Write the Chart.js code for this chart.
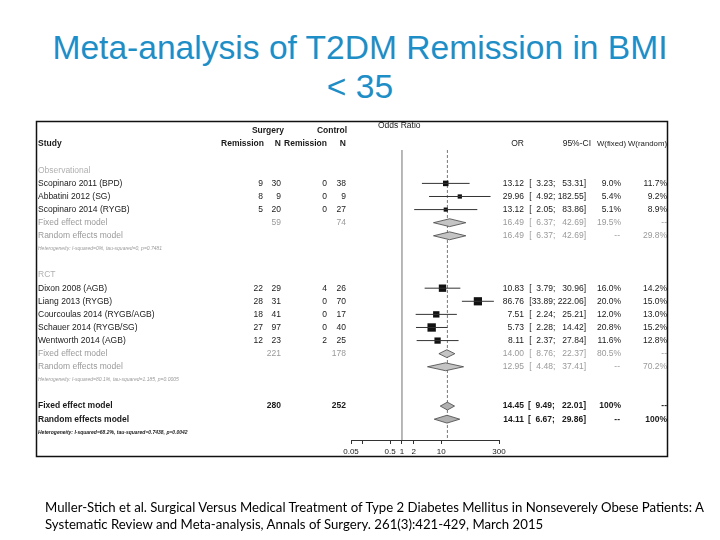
<!DOCTYPE html>
<html>
<head>
<meta charset="utf-8">
<script src="https://cdn.jsdelivr.net/npm/chart.js@4.4.0/dist/chart.umd.min.js"></script>
<style>
  body { margin: 0; width: 720px; height: 540px; background: #fff; position: relative; overflow: hidden; }
  #title { position: absolute; left: 0; top: 28px; width: 720px; text-align: center;
    font-family: "Liberation Sans", Arial, sans-serif; font-size: 33.6px; line-height: 39px; color: #1e8ec6; }
  #wrap { position: absolute; left: 0; top: 0; width: 720px; height: 540px; }
  #cite { position: absolute; left: 45px; top: 499px; font-family: Lato, "Noto Sans", sans-serif;
    font-size: 13.2px; line-height: 17px; color: #000; white-space: nowrap; }
</style>
</head>
<body>
<div id="title">Meta-analysis of T2DM Remission in BMI<br>&lt; 35</div>
<div id="wrap"><canvas id="forest" width="720" height="540"></canvas></div>
<div id="cite">Muller-Stich et al. Surgical Versus Medical Treatment of Type 2 Diabetes Mellitus in Nonseverely Obese Patients: A<br>Systematic Review and Meta-analysis, Annals of Surgery. 261(3):421-429, March 2015</div>
<script>
// studies
const studies = ['Scopinaro 2011 (BPD)', 'Abbatini 2012 (SG)', 'Scopinaro 2014 (RYGB)',
  'Dixon 2008 (AGB)', 'Liang 2013 (RYGB)', 'Courcoulas 2014 (RYGB/AGB)', 'Schauer 2014 (RYGB/SG)', 'Wentworth 2014 (AGB)'];
const studyGroup = [0, 0, 0, 1, 1, 1, 1, 1];
const surgRem = [9, 8, 5, 22, 28, 18, 27, 12];
const surgN = [30, 9, 20, 29, 31, 41, 97, 23];
const ctrlRem = [0, 0, 0, 4, 0, 0, 0, 2];
const ctrlN = [38, 9, 27, 26, 70, 17, 40, 25];
const orVal = [13.12, 29.96, 13.12, 10.83, 86.76, 7.51, 5.73, 8.11];
const ciLo = [3.23, 4.92, 2.05, 3.79, 33.89, 2.24, 2.28, 2.37];
const ciHi = [53.31, 182.55, 83.86, 30.96, 222.06, 25.21, 14.42, 27.84];
const wFixed = [9.0, 5.4, 5.1, 16.0, 20.0, 12.0, 20.8, 11.6];
const wRandom = [11.7, 9.2, 8.9, 14.2, 15.0, 13.0, 15.2, 12.8];

// subgroups
const groups = ['Observational', 'RCT'];
const grpSurgN = [59, 221];
const grpCtrlN = [74, 178];
const grpFixed = [[16.49, 6.37, 42.69], [14.00, 8.76, 22.37]];
const grpRandom = [[16.49, 6.37, 42.69], [12.95, 4.48, 37.41]];
const grpWFixed = [19.5, 80.5];
const grpWRandom = [29.8, 70.2];
const grpHet = ['Heterogeneity: I-squared=0%, tau-squared=0, p=0.7481',
  'Heterogeneity: I-squared=80.1%, tau-squared=1.185, p=0.0005'];

// overall
const totSurgN = 280;
const totCtrlN = 252;
const totFixed = [14.45, 9.49, 22.01];
const totRandom = [14.11, 6.67, 29.86];
const totHet = 'Heterogeneity: I-squared=68.2%, tau-squared=0.7438, p=0.0042';

// axis
const xTicks = [0.05, 0.1, 0.5, 1, 2, 10, 300];
const xTickLabels = ['0.05', '', '0.5', '1', '2', '10', '300'];

// row layout
const studyRow = [];
const grpRow = [];
let r = 0;
groups.forEach((g, gi) => {
  grpRow.push(r);
  let k = 1;
  studies.forEach((s, i) => { if (studyGroup[i] === gi) { studyRow[i] = r + k; k++; } });
  r += k + 4;
});
const totRow = r;

const FAM = '"Liberation Sans", Arial, sans-serif';
const BLACK = '#1a1a1a';
const GREY = '#9a9a9a';

const fmt = v => v.toFixed(2);
const ciText = (lo, hi) => '[' + fmt(lo).padStart(5, '\u2007') + '; ' + fmt(hi).padStart(6, '\u2007') + ']';
const pct = v => v.toFixed(1) + '%';

const forestPlugin = {
  id: 'forest',
  beforeDatasetsDraw(chart) {
    const c = chart.ctx, xs = chart.scales.x, ys = chart.scales.y;
    const bottom = chart.chartArea.bottom;
    c.save();
    c.strokeStyle = '#9a9a9a';
    c.lineWidth = 1.4;
    c.beginPath();
    c.moveTo(xs.getPixelForValue(1), ys.getPixelForValue(-1.55));
    c.lineTo(xs.getPixelForValue(1), bottom);
    c.stroke();
    c.strokeStyle = '#555';
    c.lineWidth = 0.8;
    c.setLineDash([3, 2]);
    c.beginPath();
    c.moveTo(xs.getPixelForValue(totFixed[0]), ys.getPixelForValue(-1.55));
    c.lineTo(xs.getPixelForValue(totFixed[0]), bottom);
    c.stroke();
    c.restore();
  },
  afterDatasetsDraw(chart) {
    const c = chart.ctx, xs = chart.scales.x, ys = chart.scales.y;
    const diamond = (est, row, fill) => {
      const h = 0.3;
      c.beginPath();
      c.moveTo(xs.getPixelForValue(est[1]), ys.getPixelForValue(row));
      c.lineTo(xs.getPixelForValue(est[0]), ys.getPixelForValue(row - h));
      c.lineTo(xs.getPixelForValue(est[2]), ys.getPixelForValue(row));
      c.lineTo(xs.getPixelForValue(est[0]), ys.getPixelForValue(row + h));
      c.closePath();
      c.fillStyle = fill;
      c.fill();
      c.strokeStyle = '#444';
      c.lineWidth = 0.8;
      c.stroke();
    };
    const txt = (s, x, row, align, color, font) => {
      c.font = font;
      c.fillStyle = color;
      c.textAlign = align;
      c.textBaseline = 'middle';
      c.fillText(s, x, ys.getPixelForValue(row));
    };
    c.save();
    const reg = '8.5px ' + FAM, bold = 'bold 8.5px ' + FAM;
    // headers
    txt('Odds Ratio', 378, -3.4, 'left', BLACK, '8.5px ' + FAM);
    txt('Surgery', 268, -3, 'center', BLACK, bold);
    txt('Control', 332, -3, 'center', BLACK, bold);
    txt('Study', 38, -2, 'left', BLACK, bold);
    txt('Remission', 264, -2, 'right', BLACK, bold);
    txt('N', 281, -2, 'right', BLACK, bold);
    txt('Remission', 327, -2, 'right', BLACK, bold);
    txt('N', 346, -2, 'right', BLACK, bold);
    txt('OR', 524, -2, 'right', BLACK, reg);
    txt('95%-CI', 591, -2, 'right', BLACK, reg);
    txt('W(fixed)', 626, -2, 'right', BLACK, '7.8px ' + FAM);
    txt('W(random)', 667, -2, 'right', BLACK, '7.8px ' + FAM);
    // studies
    studies.forEach((s, i) => {
      const row = studyRow[i];
      txt(s, 38, row, 'left', BLACK, reg);
      txt(String(surgRem[i]), 263, row, 'right', BLACK, reg);
      txt(String(surgN[i]), 281, row, 'right', BLACK, reg);
      txt(String(ctrlRem[i]), 327, row, 'right', BLACK, reg);
      txt(String(ctrlN[i]), 346, row, 'right', BLACK, reg);
      txt(fmt(orVal[i]), 524, row, 'right', BLACK, reg);
      txt(ciText(ciLo[i], ciHi[i]), 586, row, 'right', BLACK, reg);
      txt(pct(wFixed[i]), 621, row, 'right', BLACK, reg);
      txt(pct(wRandom[i]), 667, row, 'right', BLACK, reg);
    });
    // subgroups
    groups.forEach((g, gi) => {
      const g0 = grpRow[gi];
      const n = studyGroup.filter(v => v === gi).length;
      const fr = g0 + n + 1, rr = g0 + n + 2, hr = g0 + n + 3;
      txt(g, 38, g0, 'left', '#b0b0b0', reg);
      txt('Fixed effect model', 38, fr, 'left', GREY, reg);
      txt(String(grpSurgN[gi]), 281, fr, 'right', GREY, reg);
      txt(String(grpCtrlN[gi]), 346, fr, 'right', GREY, reg);
      txt(fmt(grpFixed[gi][0]), 524, fr, 'right', GREY, reg);
      txt(ciText(grpFixed[gi][1], grpFixed[gi][2]), 586, fr, 'right', GREY, reg);
      txt(pct(grpWFixed[gi]), 621, fr, 'right', GREY, reg);
      txt('--', 667, fr, 'right', GREY, reg);
      txt('Random effects model', 38, rr, 'left', GREY, reg);
      txt(fmt(grpRandom[gi][0]), 524, rr, 'right', GREY, reg);
      txt(ciText(grpRandom[gi][1], grpRandom[gi][2]), 586, rr, 'right', GREY, reg);
      txt('--', 620, rr, 'right', GREY, reg);
      txt(pct(grpWRandom[gi]), 667, rr, 'right', GREY, reg);
      txt(grpHet[gi], 38, hr, 'left', GREY, 'italic 5px ' + FAM);
      diamond(grpFixed[gi], fr, '#c4c4c4');
      diamond(grpRandom[gi], rr, '#c4c4c4');
    });
    // overall
    txt('Fixed effect model', 38, totRow, 'left', BLACK, bold);
    txt(String(totSurgN), 281, totRow, 'right', BLACK, bold);
    txt(String(totCtrlN), 346, totRow, 'right', BLACK, bold);
    txt(fmt(totFixed[0]), 524, totRow, 'right', BLACK, bold);
    txt(ciText(totFixed[1], totFixed[2]), 586, totRow, 'right', BLACK, bold);
    txt('100%', 621, totRow, 'right', BLACK, bold);
    txt('--', 667, totRow, 'right', BLACK, bold);
    txt('Random effects model', 38, totRow + 1, 'left', BLACK, bold);
    txt(fmt(totRandom[0]), 524, totRow + 1, 'right', BLACK, bold);
    txt(ciText(totRandom[1], totRandom[2]), 586, totRow + 1, 'right', BLACK, bold);
    txt('--', 620, totRow + 1, 'right', BLACK, bold);
    txt('100%', 667, totRow + 1, 'right', BLACK, bold);
    txt(totHet, 38, totRow + 2, 'left', BLACK, 'bold italic 5px ' + FAM);
    diamond(totFixed, totRow, '#b0b0b0');
    diamond(totRandom, totRow + 1, '#b0b0b0');
    // frame
    c.strokeStyle = '#111';
    c.lineWidth = 1.5;
    c.strokeRect(36.5, 121.5, 631, 335);
    c.restore();
  }
};

const ciSets = studies.map((s, i) => ({
  type: 'line',
  data: [{ x: ciLo[i], y: studyRow[i] }, { x: ciHi[i], y: studyRow[i] }],
  borderColor: '#333',
  borderWidth: 1,
  pointRadius: 0,
  showLine: true
}));

const squares = {
  data: studies.map((s, i) => ({ x: orVal[i], y: studyRow[i] })),
  pointStyle: 'rect',
  pointRadius: wFixed.map(w => 1.3 * Math.sqrt(w)),
  backgroundColor: '#111',
  borderColor: '#111',
  borderWidth: 0
};

const ctx = document.getElementById('forest').getContext('2d');
const chart = new Chart(ctx, {
  type: 'scatter',
  data: { datasets: [...ciSets, squares] },
  options: {
    responsive: false,
    animation: false,
    layout: { padding: { left: 351, right: 221, top: 131, bottom: 85 } },
    plugins: { legend: { display: false }, tooltip: { enabled: false } },
    scales: {
      x: {
        type: 'logarithmic',
        min: 0.05,
        max: 300,
        afterBuildTicks: s => { s.ticks = xTicks.map(v => ({ value: v })); },
        afterFit: s => { s.height = 15; },
        ticks: {
          autoSkip: false,
          maxRotation: 0,
          padding: 3,
          color: BLACK,
          font: { size: 8, family: FAM },
          callback: (v, i) => xTickLabels[i]
        },
        grid: { drawOnChartArea: false, tickLength: 4, color: '#333' },
        border: { color: '#333' }
      },
      y: { type: 'linear', reverse: true, min: -3, max: 20.59, display: false }
    }
  },
  plugins: [forestPlugin]
});
</script>
</body>
</html>
